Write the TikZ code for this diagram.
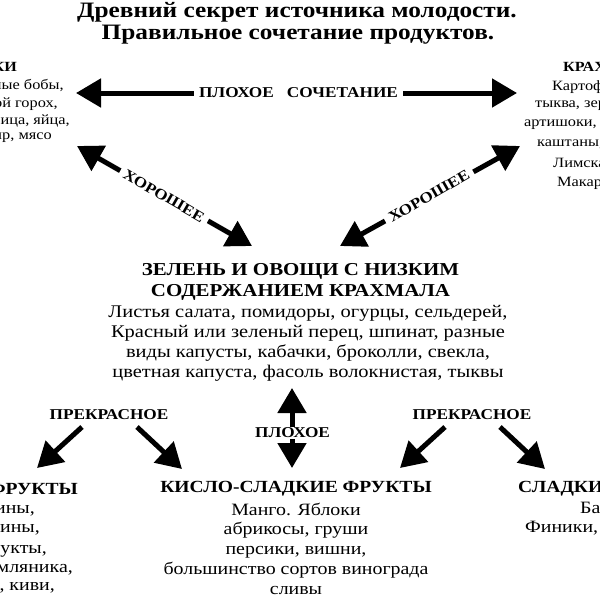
\documentclass[tikz,border=0pt]{standalone}
\usepackage{fontspec}
\setmainfont{Liberation Serif}[FakeStretch=1.15]
\usetikzlibrary{arrows.meta}
\begin{document}
\begin{tikzpicture}[x=1pt,y=-1pt,
  big/.style={font=\fontsize{22}{23}\selectfont\bfseries, inner sep=0pt},
  head/.style={font=\fontsize{18.2}{21.5}\selectfont\bfseries, inner sep=0pt, align=center},
  fhead/.style={font=\fontsize{17}{21}\selectfont\bfseries, inner sep=0pt},
  body/.style={font=\fontsize{17.8}{19.8}\selectfont, align=center, inner sep=0pt},
  fbody/.style={font=\fontsize{17.3}{19.8}\selectfont, align=center, inner sep=0pt},
  small/.style={font=\fontsize{14.2}{18}\selectfont, inner sep=0pt},
  smallhead/.style={font=\fontsize{14}{18}\selectfont\bfseries, inner sep=0pt},
  lab/.style={font=\fontsize{15}{18}\selectfont\bfseries, fill=white, inner xsep=5pt, inner ysep=2pt},
  arr/.style={line width=5pt, -{Triangle[length=25pt,width=28pt]}},
  darr/.style={line width=5pt, {Triangle[length=25pt,width=28pt]}-{Triangle[length=25pt,width=28pt]}},
]
\useasboundingbox (0,0) rectangle (600,600);
\clip (0,0) rectangle (600,600);
\fill[white] (0,0) rectangle (600,600);

% title
\node[big] (t1) at (297,12) {Древний секрет источника молодости.};
\node[big] (t2) at (298,35) {Правильное сочетание продуктов.};

% left top column (cropped)
\node[smallhead, anchor=east] (lh) at (17,67) {БЕЛКИ};
\node[small, anchor=east] (l1) at (64,86) {Орехи, красные бобы,};
\node[small, anchor=east] (l2) at (58,104) {сухой горох,};
\node[small, anchor=east] (l3) at (70,121) {чечевица, яйца,};
\node[small, anchor=east] (l4) at (52,138) {сыр, мясо};

% right top column (cropped)
\node[smallhead, anchor=west] (rh) at (563,67) {КРАХМАЛЫ};
\node[small, anchor=west] (r1) at (552,87) {Картофель,};
\node[small, anchor=west] (r2) at (535,106) {тыква, зерновые,};
\node[small, anchor=west] (r3) at (524,125) {артишоки, кукуруза,};
\node[small, anchor=west] (r4) at (537,145) {каштаны, рис,};
\node[small, anchor=west] (r5) at (553,164) {Лимская фасоль,};
\node[small, anchor=west] (r6) at (557,183) {Макароны};

% top horizontal arrow
\coordinate (hl) at (76,93);
\coordinate (hr) at (517,93);
\draw[darr] (hl) -- (hr);
\node[lab] (bad1) at (298.5,93) {ПЛОХОЕ\hspace{13pt}СОЧЕТАНИЕ};

% diagonal arrows
\coordinate (dl1) at (77,146);
\coordinate (dl2) at (252,246);
\draw[darr] (dl1) -- (dl2);
\node[lab, rotate=-30] (good1) at (164,196) {ХОРОШЕЕ};
\coordinate (dr1) at (520,146);
\coordinate (dr2) at (340,246);
\draw[darr] (dr1) -- (dr2);
\node[lab, rotate=30] (good2) at (429,196) {ХОРОШЕЕ};

% center block
\node[head] (ch) at (300.5,282) {ЗЕЛЕНЬ И ОВОЩИ С НИЗКИМ\\СОДЕРЖАНИЕМ КРАХМАЛА};
\node[body] (cb) at (308,343.5) {Листья салата, помидоры, огурцы, сельдерей,\\Красный или зеленый перец, шпинат, разные\\виды капусты, кабачки, броколли, свекла,\\цветная капуста, фасоль волокнистая, тыквы};

% vertical arrow
\coordinate (vt) at (292,388);
\coordinate (vb) at (292,468);
\draw[darr] (vt) -- (vb);
\node[lab, inner ysep=1pt] (bad2) at (292.5,433) {ПЛОХОЕ};

% ПРЕКРАСНОЕ left
\node[lab] (ex1) at (109,415) {ПРЕКРАСНОЕ};
\coordinate (a1s) at (82,427); \coordinate (a1e) at (37,468);
\coordinate (a2s) at (137,427); \coordinate (a2e) at (182,469);
\draw[arr] (a1s) -- (a1e);
\draw[arr] (a2s) -- (a2e);

% ПРЕКРАСНОЕ right
\node[lab] (ex2) at (472,415) {ПРЕКРАСНОЕ};
\coordinate (a3s) at (445,427); \coordinate (a3e) at (400,468);
\coordinate (a4s) at (500,427); \coordinate (a4e) at (545,469);
\draw[arr] (a3s) -- (a3e);
\draw[arr] (a4s) -- (a4e);

% bottom left (cropped)
\node[fhead, anchor=east] (bl) at (78,489) {КИСЛЫЕ ФРУКТЫ};
\node[fbody, anchor=east] (bl1) at (35,509) {Апельсины,};
\node[fbody, anchor=east] (bl2) at (40,529) {Мандарины,};
\node[fbody, anchor=east] (bl3) at (47,549) {Цитрусовые фрукты,};
\node[fbody, anchor=east] (bl4) at (73,568) {Клубника, земляника,};
\node[fbody, anchor=east] (bl5) at (55,588) {ананасы, киви,};

% bottom center
\node[fhead] (bc) at (296,489) {КИСЛО-СЛАДКИЕ ФРУКТЫ};
\node[fbody] (bcb) at (296,548.5) {Манго. Яблоки\\абрикосы, груши\\персики, вишни,\\большинство сортов винограда\\сливы};

% bottom right (cropped)
\node[fhead, anchor=west] (br) at (518,489) {СЛАДКИЕ ФРУКТЫ};
\node[fbody, anchor=west] (br1) at (580,509) {Бананы,};
\node[fbody, anchor=west] (br2) at (525,529) {Финики, инжир};
\end{tikzpicture}
\end{document}
